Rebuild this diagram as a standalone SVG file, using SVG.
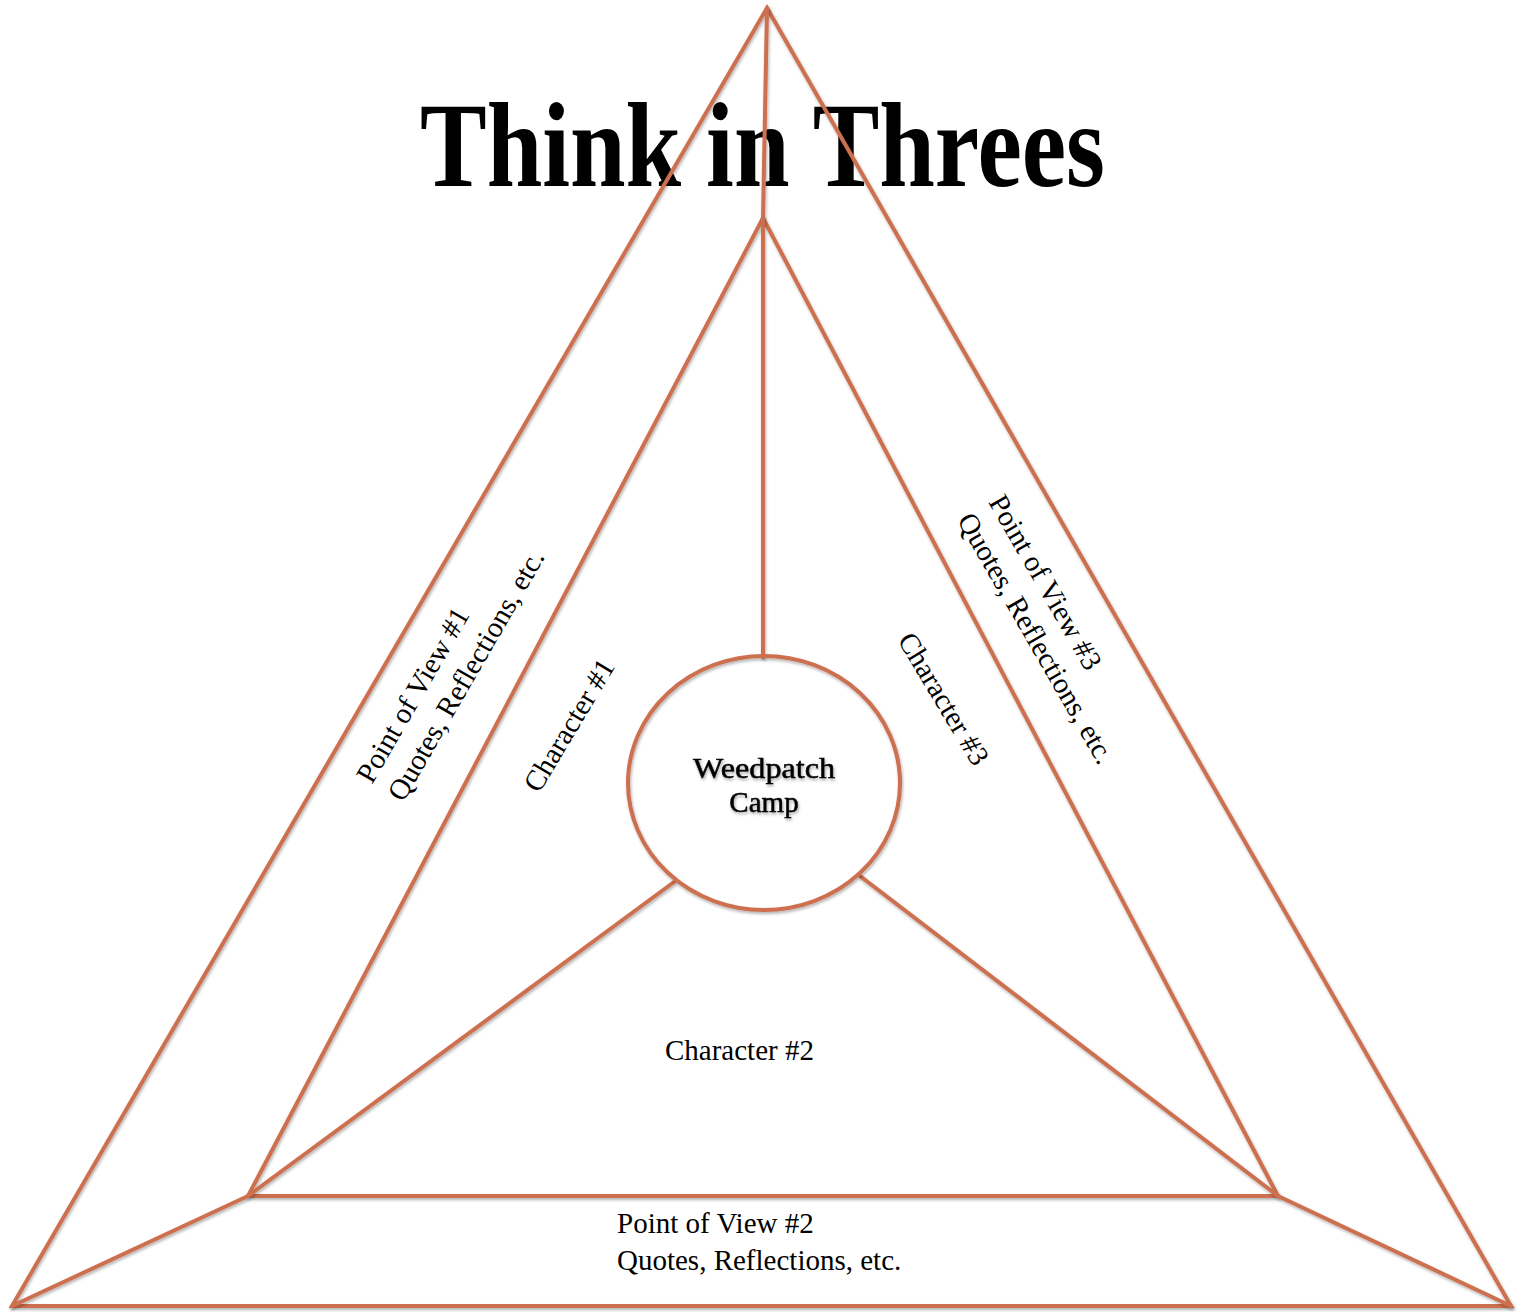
<svg xmlns="http://www.w3.org/2000/svg" width="1517" height="1312" viewBox="0 0 1517 1312">
<defs>
<filter id="sh" x="-5%" y="-5%" width="110%" height="110%">
<feDropShadow dx="1" dy="2" stdDeviation="1.5" flood-color="#000" flood-opacity="0.3"/>
</filter>
<filter id="tsh" x="-10%" y="-10%" width="120%" height="130%">
<feDropShadow dx="1" dy="2" stdDeviation="1.5" flood-color="#000" flood-opacity="0.35"/>
</filter>
</defs>
<style>
.ln{fill:none;stroke:#cd6f50;stroke-width:4;stroke-linejoin:miter;stroke-linecap:round}
.t{font-family:"Liberation Serif","Times New Roman",serif;font-size:29px;fill:#000}
.title{font-family:"Liberation Serif","Times New Roman",serif;font-size:120px;font-weight:bold;fill:#000}
</style>
<rect width="1517" height="1312" fill="#fff"/>
<g id="title"><text class="title" x="420" y="186" textLength="685" lengthAdjust="spacingAndGlyphs">Think in Threes</text></g>
<g id="outer-triangle" filter="url(#sh)"><polygon class="ln" points="767,8 12,1306 1511,1306"/></g>
<g id="inner-triangle" filter="url(#sh)"><polygon class="ln" points="763,218 248,1196 1278,1196"/></g>
<g id="connectors" filter="url(#sh)">
<line class="ln" x1="767" y1="8" x2="763" y2="218"/>
<line class="ln" x1="763" y1="218" x2="763" y2="657"/>
<line class="ln" x1="12" y1="1306" x2="248" y2="1196" stroke-width="5"/>
<line class="ln" x1="1511" y1="1306" x2="1278" y2="1196" stroke-width="5"/>
<line class="ln" x1="674" y1="882" x2="248" y2="1196" stroke-width="5"/>
<line class="ln" x1="860" y1="876" x2="1278" y2="1196" stroke-width="5"/>
</g>
<g id="weedpatch-camp">
<ellipse class="ln" cx="764" cy="783" rx="136" ry="127" fill="#fff" filter="url(#sh)"/>
<g filter="url(#tsh)">
<text class="t" x="764" y="778" text-anchor="middle" font-size="31" stroke="#000" stroke-width="0.5" textLength="142" lengthAdjust="spacingAndGlyphs">Weedpatch</text>
<text class="t" x="764" y="812" text-anchor="middle" font-size="31" stroke="#000" stroke-width="0.5">Camp</text>
</g>
</g>
<g id="pov1" transform="translate(372,785) rotate(-60)">
<text class="t" x="0" y="0">Point of View #1</text>
<text class="t" x="0" y="36">Quotes, Reflections, etc.</text>
</g>
<g id="character1"><text class="t" transform="translate(539,794) rotate(-59)">Character #1</text></g>
<g id="pov3" transform="translate(988,502) rotate(60)">
<text class="t" x="0" y="0">Point of View #3</text>
<text class="t" x="0" y="36">Quotes, Reflections, etc.</text>
</g>
<g id="character3"><text class="t" transform="translate(897,640) rotate(59)">Character #3</text></g>
<g id="character2"><text class="t" x="665" y="1060">Character #2</text></g>
<g id="pov2">
<text class="t" x="617" y="1233">Point of View #2</text>
<text class="t" x="617" y="1270">Quotes, Reflections, etc.</text>
</g>
</svg>
